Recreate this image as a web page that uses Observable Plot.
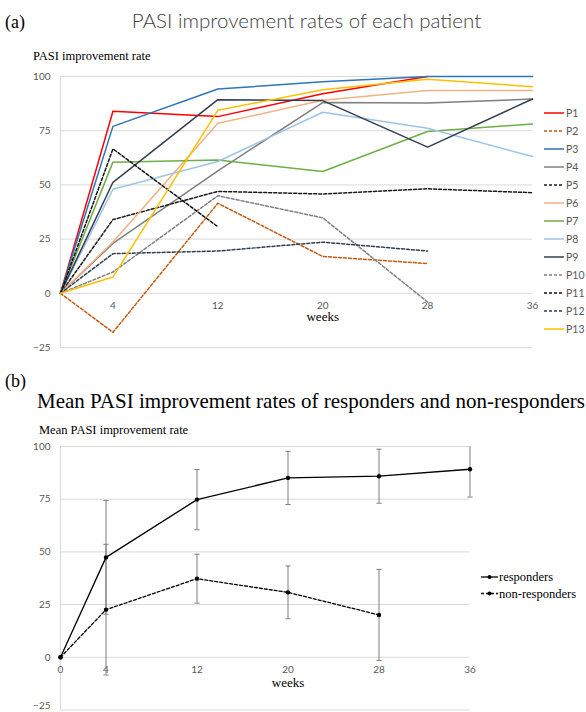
<!DOCTYPE html>
<html>
<head>
<meta charset="utf-8">
<script src="https://cdn.jsdelivr.net/npm/d3@7"></script>
<script src="https://cdn.jsdelivr.net/npm/@observablehq/plot@0.6"></script>
<style>
  html, body { margin: 0; padding: 0; background: #fff; }
  #wrap { position: relative; width: 586px; height: 712px; overflow: hidden; background: #fff; }
  .abs { position: absolute; white-space: nowrap; line-height: 1; }
  .serif { font-family: "Liberation Serif", "DejaVu Serif", serif; color: #000; }
  .sans { font-family: Lato, "Open Sans", sans-serif; }
  #panelA, #panelB { position: absolute; left: 0; }
  #panelA { top: 0; }
  #panelB { top: 360px; }
</style>
</head>
<body>
<div id="wrap">
  <div id="panelA"></div>
  <div id="panelB"></div>
  <div class="abs serif" style="left:5px; top:13px; font-size:18px;">(a)</div>
  <div class="abs sans" id="titleA" style="left:0; width:613px; text-align:center; top:10px; font-size:20.5px; font-weight:300; color:#404040;">PASI improvement rates of each patient</div>
  <div class="abs serif" style="left:33px; top:50px; font-size:12.5px;">PASI improvement rate</div>
  <div class="abs serif" style="left:5px; top:372px; font-size:18px;">(b)</div>
  <div class="abs serif" id="titleB" style="left:0; width:622px; text-align:center; top:391px; font-size:21px;">Mean PASI improvement rates of responders and non-responders</div>
  <div class="abs serif" style="left:39px; top:424px; font-size:12.5px;">Mean PASI improvement rate</div>
</div>
<script>
// ---------- Panel (a) data ----------
const weeks = [0, 4, 12, 20, 28, 36];
const patientNames = ["P1","P2","P3","P4","P5","P6","P7","P8","P9","P10","P11","P12","P13"];
const P1  = [0, 84, 81.5, 92, 100];
const P2  = [0, -18, 41.5, 17, 13.7];
const P3  = [0, 77, 94.2, 97.6, 100, 100];
const P4  = [0, 23, 56.5, 88, 87.8, 89.6];
const P5  = [0, 34, 47, 45.8, 48.2, 46.4];
const P6  = [0, 23.7, 78.4, 89, 93.5, 93.5];
const P7  = [0, 60.5, 61.5, 56.2, 74.6, 78.1];
const P8  = [0, 48, 60.8, 83.5, 76.1, 63.1];
const P9  = [0, 51.2, 89.3, 88.9, 67.4, 89.6];
const P10 = [0, 9.8, 45, 34.8, -4];
const P11 = [0, 66.6, 30.7];
const P12 = [0, 18.3, 19.5, 23.6, 19.5];
const P13 = [0, 7.5, 84.4, 93.9, 98.7, 95.3];
const patientValues = [P1,P2,P3,P4,P5,P6,P7,P8,P9,P10,P11,P12,P13];
const patientColors = ["#ff0000","#c55a11","#2e75b6","#7f7f7f","#1a1a1a","#f4b183","#70ad47","#9dc3e6","#333f50","#808080","#111111","#333f50","#ffc000"];
const patientDashed = [false,true,false,false,true,false,false,false,false,true,true,true,false];
const yTicks = [-25, 0, 25, 50, 75, 100];
const yTicksUpper = [0, 25, 50, 75, 100];
const yTicksLower = [-25];
const xTickLabelsA = [4, 12, 20, 28, 36];

// ---------- Panel (b) data ----------
const meanWeeks = [0, 4, 12, 20, 28, 36];
const responders = [0, 47.4, 74.8, 85.1, 85.9, 89.2];
const respErr = [0, 27, 14.3, 12.6, 12.8, 13.2];
const nonResponders = [0, 22.6, 37.3, 30.8, 20.1];
const nonRespErr = [0, 31, 11.6, 12.5, 21.6];
const xTickLabelsB = [0, 4, 12, 20, 28, 36];
const groupNames = ["responders", "non-responders"];
const yMax = 100;

const gridColor = "#d9d9d9";
const tickColor = "#595959";
const sansFont = "Lato, 'Open Sans', sans-serif";
const serifFont = "'Liberation Serif', 'DejaVu Serif', serif";

// ---------- Panel (a) ----------
const seriesA = patientNames.map((name, i) => ({
  name, color: patientColors[i], dashed: patientDashed[i],
  data: patientValues[i].map((v, j) => ({week: weeks[j], value: v}))
}));

const chartA = Plot.plot({
  width: 586, height: 355,
  marginTop: 76, marginBottom: 8, marginLeft: 60, marginRight: 54,
  x: {domain: [0, 36], axis: null},
  y: {domain: [-25, 100], axis: null},
  style: {fontFamily: sansFont, background: "transparent", overflow: "visible"},
  marks: [
    Plot.gridY(yTicks, {stroke: gridColor, strokeOpacity: 1, strokeWidth: 1}),
    Plot.ruleX([0], {stroke: gridColor, strokeWidth: 1}),
    Plot.axisY(yTicks, {tickSize: 0, tickPadding: 10, fontSize: 10, fill: tickColor, fontFamily: sansFont, label: null}),
    Plot.text(xTickLabelsA, {x: d => d, y: () => 0, text: d => String(d), dy: 12, fontSize: 10, fill: tickColor, fontFamily: sansFont}),
    Plot.text(["weeks"], {x: () => 20, y: () => 0, text: d => d, dy: 24, fontSize: 13, fill: "#000", fontFamily: serifFont}),
    ...seriesA.map(s => Plot.line(s.data, {
      x: "week", y: "value", stroke: s.color, strokeWidth: 1.5,
      strokeDasharray: s.dashed ? "3,2" : null
    }))
  ]
});
document.getElementById("panelA").appendChild(chartA);

// legend for panel (a)
{
  const svg = d3.select(chartA);
  const g = svg.append("g").attr("text-anchor", "start");
  seriesA.forEach((s, i) => {
    const y = 113 + i * 18;
    g.append("line").attr("x1", 544).attr("x2", 564).attr("y1", y).attr("y2", y)
      .attr("stroke", s.color).attr("stroke-width", 1.5)
      .attr("stroke-dasharray", s.dashed ? "3,2" : null);
    g.append("text").attr("x", 566).attr("y", y).attr("dy", "0.35em")
      .attr("text-anchor", "start")
      .attr("font-size", 10.5).attr("fill", tickColor).attr("font-family", sansFont)
      .text(s.name);
  });
}

// ---------- Panel (b) ----------
const respData = responders.map((v, i) => ({week: meanWeeks[i], value: v, err: respErr[i]}));
const nonData = nonResponders.map((v, i) => ({week: meanWeeks[i], value: v, err: nonRespErr[i]}));
const errData = [...respData, ...nonData].filter(d => d.err > 0);
const topCaps = errData.filter(d => d.value + d.err <= yMax);

const capSymbol = {
  draw(context, size) {
    const w = 2.6;
    context.moveTo(-w, 0);
    context.lineTo(w, 0);
  }
};

const chartB = Plot.plot({
  width: 586, height: 352,
  marginTop: 86, marginBottom: 2.5, marginLeft: 60, marginRight: 116.5,
  x: {domain: [0, 36], axis: null},
  y: {domain: [-25, 100], axis: null},
  style: {fontFamily: serifFont, background: "transparent", overflow: "visible"},
  marks: [
    Plot.gridY(yTicks, {stroke: gridColor, strokeOpacity: 1, strokeWidth: 1}),
    Plot.ruleX([0], {stroke: gridColor, strokeWidth: 1}),
    Plot.axisY(yTicksUpper, {tickSize: 0, tickPadding: 10, fontSize: 10, fill: tickColor, fontFamily: sansFont, label: null}),
    Plot.axisY(yTicksLower, {tickSize: 0, tickPadding: 10, fontSize: 10, fill: tickColor, fontFamily: sansFont, label: null, dy: -4}),
    Plot.text(xTickLabelsB, {x: d => d, y: () => 0, text: d => String(d), dy: 12, fontSize: 10, fill: tickColor, fontFamily: sansFont}),
    Plot.text(["weeks"], {x: () => 20, y: () => 0, text: d => d, dy: 26, fontSize: 13, fill: "#000", fontFamily: serifFont}),
    // error bars
    Plot.ruleX(errData, {x: "week", y1: d => d.value - d.err, y2: d => Math.min(d.value + d.err, yMax), stroke: "#7f7f7f", strokeWidth: 1}),
    Plot.dot(errData, {x: "week", y: d => d.value - d.err, symbol: capSymbol, stroke: "#7f7f7f", strokeWidth: 1, fill: "none"}),
    Plot.dot(topCaps, {x: "week", y: d => d.value + d.err, symbol: capSymbol, stroke: "#7f7f7f", strokeWidth: 1, fill: "none"}),
    // lines
    Plot.line(respData, {x: "week", y: "value", stroke: "#000", strokeWidth: 1.3}),
    Plot.line(nonData, {x: "week", y: "value", stroke: "#000", strokeWidth: 1.3, strokeDasharray: "3,2"}),
    Plot.dot(respData, {x: "week", y: "value", r: 2.2, fill: "#000"}),
    Plot.dot(nonData, {x: "week", y: "value", r: 2.2, fill: "#000"})
  ]
});
document.getElementById("panelB").appendChild(chartB);

// legend for panel (b)
{
  const svg = d3.select(chartB);
  const g = svg.append("g").attr("text-anchor", "start");
  groupNames.forEach((name, i) => {
    const y = 217 + i * 16.5;
    g.append("line").attr("x1", 481).attr("x2", 498).attr("y1", y).attr("y2", y)
      .attr("stroke", "#000").attr("stroke-width", 1.3)
      .attr("stroke-dasharray", i === 1 ? "3,2" : null);
    g.append("circle").attr("cx", 489.5).attr("cy", y).attr("r", 2).attr("fill", "#000");
    g.append("text").attr("x", 499).attr("y", y).attr("dy", "0.32em")
      .attr("text-anchor", "start")
      .attr("font-size", 12.5).attr("fill", "#000").attr("font-family", serifFont)
      .text(name);
  });
}
</script>
</body>
</html>
